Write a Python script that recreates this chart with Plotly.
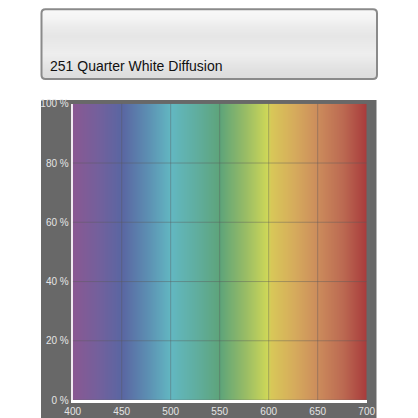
import plotly.graph_objects as go

# the page puts the figure 8 px in from the top-left corner of the window
OFFSET = 8
W = H = 418 - OFFSET

# transmission chart data
title_text = "251 Quarter White Diffusion"
wavelengths = [400, 425, 450, 475, 500, 525, 550, 575, 599, 602, 625, 650, 675, 700]
spectrum_colors = [
    "#8a5892", "#74609c", "#5a66a2", "#5c8eb2", "#62b8c2", "#60aea0", "#5ea47a",
    "#98bc66", "#d0d858", "#d8c858", "#d6ac5c", "#cc8c5c", "#bc6a52", "#a83a3c",
]
x_ticks = [400, 450, 500, 550, 600, 650, 700]
y_ticks = [0, 20, 40, 60, 80, 100]
y_ticklabels = ["0 %", "20 %", "40 %", "60 %", "80 %", "100 %"]
# grey shading of the swatch box, top to bottom
swatch_levels = [248, 244, 236, 230, 234, 238, 232, 224, 220]


def px(v):
    return (v - OFFSET) / W


def py(v):
    return 1 - (v - OFFSET) / H


def rounded_rect(x0, y0, x1, y1, r):
    # window pixel coords in, paper coords path out
    X = lambda v: f"{px(v):.5f}"
    Y = lambda v: f"{py(v):.5f}"
    return (
        f"M {X(x0 + r)},{Y(y0)} L {X(x1 - r)},{Y(y0)} Q {X(x1)},{Y(y0)} {X(x1)},{Y(y0 + r)} "
        f"L {X(x1)},{Y(y1 - r)} Q {X(x1)},{Y(y1)} {X(x1 - r)},{Y(y1)} "
        f"L {X(x0 + r)},{Y(y1)} Q {X(x0)},{Y(y1)} {X(x0)},{Y(y1 - r)} "
        f"L {X(x0)},{Y(y0 + r)} Q {X(x0)},{Y(y0)} {X(x0 + r)},{Y(y0)} Z"
    )


lo, hi = wavelengths[0], wavelengths[-1]
colorscale = [[(w - lo) / (hi - lo), c] for w, c in zip(wavelengths, spectrum_colors)]

fig = go.Figure()

# spectrum background
fig.add_trace(
    go.Heatmap(
        x=wavelengths,
        y=[0, 100],
        z=[wavelengths, wavelengths],
        zmin=lo,
        zmax=hi,
        colorscale=colorscale,
        zsmooth="best",
        showscale=False,
        hoverinfo="skip",
    )
)

# swatch gradient
fig.add_trace(
    go.Heatmap(
        x=[0, 1],
        y=list(range(len(swatch_levels))),
        z=[[v, v] for v in swatch_levels],
        zmin=0,
        zmax=255,
        colorscale=[[0, "black"], [1, "white"]],
        zsmooth="best",
        showscale=False,
        hoverinfo="skip",
        xaxis="x2",
        yaxis="y2",
    )
)

box_top = OFFSET + 1.2
shapes = [
    # dark panel behind the chart
    dict(type="rect", xref="paper", yref="paper", x0=px(41), x1=px(376.5),
         y0=py(425), y1=py(100), fillcolor="#686868", line_width=0, layer="below"),
    # swatch border
    dict(type="path", xref="paper", yref="paper", path=rounded_rect(41.5, box_top, 377, 79, 4),
         line=dict(color="#8a8a8a", width=2), fillcolor="rgba(0,0,0,0)", layer="above"),
]
for xv in x_ticks[1:-1]:
    shapes.append(dict(type="line", xref="x", yref="y", x0=xv, x1=xv, y0=0, y1=100,
                       line=dict(color="rgba(90,90,90,0.42)", width=1), layer="above"))
for yv in y_ticks[1:-1]:
    shapes.append(dict(type="line", xref="x", yref="y", x0=lo, x1=hi, y0=yv, y1=yv,
                       line=dict(color="rgba(90,90,90,0.42)", width=1), layer="above"))

fig.update_layout(
    width=W,
    height=H,
    margin=dict(l=0, r=0, t=0, b=0, pad=0, autoexpand=False),
    paper_bgcolor="white",
    plot_bgcolor="rgba(0,0,0,0)",
    showlegend=False,
    font=dict(family="Liberation Sans, Arial, sans-serif", size=10, color="#e4e4e4"),
    shapes=shapes,
    xaxis=dict(
        domain=[px(72.7), px(366.7)],
        range=[lo, hi],
        tickvals=x_ticks,
        showgrid=False,
        zeroline=False,
        showline=True,
        linecolor="white",
        linewidth=2.5,
        ticks="",
        automargin=False,
        layer="above traces",
        fixedrange=True,
    ),
    yaxis=dict(
        domain=[py(400), py(103.8)],
        range=[0, 100],
        tickvals=y_ticks,
        ticktext=y_ticklabels,
        showgrid=False,
        zeroline=False,
        showline=True,
        linecolor="#f2eaf2",
        linewidth=2,
        ticks="",
        automargin=False,
        layer="above traces",
        fixedrange=True,
    ),
    xaxis2=dict(domain=[px(41.5), px(377)], range=[0, 1], visible=False,
                anchor="y2", automargin=False),
    yaxis2=dict(domain=[py(79), py(box_top)], range=[len(swatch_levels) - 1, 0],
                visible=False, anchor="x2", automargin=False),
    annotations=[
        dict(text=title_text, xref="paper", yref="paper", x=px(47.5), y=py(66),
             xanchor="left", yanchor="middle", showarrow=False,
             font=dict(family="Liberation Sans, Arial, sans-serif", size=14, color="#111111")),
    ],
)

fig.write_html("out.html")
